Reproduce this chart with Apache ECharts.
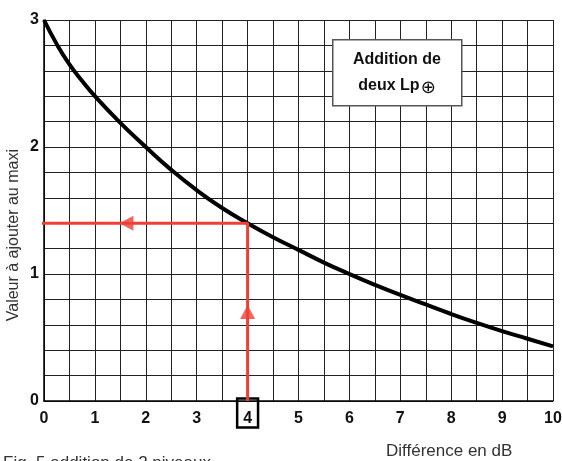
<!DOCTYPE html>
<html>
<head>
<meta charset="utf-8">
<script src="https://cdn.jsdelivr.net/npm/echarts@6/dist/echarts.min.js"></script>
<style>html,body{margin:0;padding:0;background:#fff}#c{width:562px;height:461px}</style>
</head>
<body>
<div id="c"></div>
<script>
// Data
const xValues = [0, 0.25, 0.5, 0.75, 1, 1.5, 2, 2.5, 3, 3.5, 4, 4.5, 5, 5.5, 6, 6.5, 7, 7.5, 8, 8.5, 9, 9.5, 10];
const yValues = [3.0, 2.81, 2.65, 2.52, 2.40, 2.19, 2.0, 1.82, 1.66, 1.52, 1.4, 1.29, 1.19, 1.09, 1.0, 0.915, 0.835, 0.76, 0.685, 0.615, 0.55, 0.49, 0.43];
const xTickLabels = ['0', '1', '2', '3', '4', '5', '6', '7', '8', '9', '10'];
const yTickLabels = ['0', '1', '2', '3'];
const highlightedTick = 4;
const guideX = [-0.22, 4, 4];
const guideY = [1.4, 1.4, 0];
const arrowLeft = [1.62, 1.4];
const arrowUp = [4, 0.70];
const boxTitle = ['Addition de', 'deux Lp'];
const yName = 'Valeur à ajouter au maxi';
const xName = 'Différence en dB';
const caption = 'Fig. 5 addition de 2 niveaux';

const FONT = '"Liberation Sans", Arial, sans-serif';
const RED = '#ee3f36';
const curve = xValues.map((x, i) => [x, yValues[i]]);
const guide = guideX.map((x, i) => [x, guideY[i]]);

const chart = echarts.init(document.getElementById('c'), null, {renderer: 'canvas'});
chart.setOption({
  animation: false,
  backgroundColor: '#fff',
  grid: {left: 44, top: 20, width: 509, height: 381, containLabel: false, outerBoundsMode: 'none'},
  xAxis: {
    type: 'value', min: 0, max: 10, interval: 1,
    axisLine: {show: true, lineStyle: {color: '#000', width: 1.5}},
    axisTick: {show: false},
    splitLine: {show: true, lineStyle: {color: '#222', width: 1}},
    minorTick: {show: false, splitNumber: 2},
    minorSplitLine: {show: true, lineStyle: {color: '#222', width: 1}},
    axisLabel: {
      margin: 4,
      hideOverlap: false,
      formatter: v => {
        const t = xTickLabels[Math.round(v)];
        return v === highlightedTick ? '{box|' + t + '}' : '{n|' + t + '}';
      },
      rich: {
        n: {fontFamily: FONT, fontWeight: 'bold', fontSize: 16, color: '#111', padding: [12, 6, 1, 6], lineHeight: 16},
        box: {fontFamily: FONT, fontWeight: 'bold', fontSize: 16, color: '#111', padding: [12, 6, 1, 6], lineHeight: 16,
              borderColor: '#000', borderWidth: 2.5}
      }
    }
  },
  yAxis: {
    type: 'value', min: 0, max: 3, interval: 1,
    axisLine: {show: true, lineStyle: {color: '#000', width: 1.5}},
    axisTick: {show: false},
    splitLine: {show: true, lineStyle: {color: '#222', width: 1}},
    minorTick: {show: false, splitNumber: 5},
    minorSplitLine: {show: true, lineStyle: {color: '#222', width: 1}},
    axisLabel: {
      margin: 5,
      formatter: v => yTickLabels[Math.round(v)],
      fontFamily: FONT, fontWeight: 'bold', fontSize: 16, color: '#111'
    }
  },
  series: [
    {
      type: 'line', data: curve, smooth: true, symbol: 'none',
      lineStyle: {color: '#000', width: 4}, z: 3
    },
    {
      type: 'line', data: guide, symbol: 'none', clip: false,
      lineStyle: {color: RED, width: 3}, z: 4
    },
    {
      type: 'scatter', data: [arrowLeft], symbol: 'triangle', symbolSize: [15, 14], symbolRotate: 90,
      itemStyle: {color: RED}, clip: false, z: 5
    },
    {
      type: 'scatter', data: [arrowUp], symbol: 'triangle', symbolSize: [15, 14], symbolRotate: 0,
      itemStyle: {color: RED}, clip: false, z: 5
    }
  ],
  graphic: [
    {type: 'rect', left: 332, top: 39, z: 100,
     shape: {x: 0, y: 0, width: 129, height: 66},
     style: {fill: '#fff', stroke: '#555', lineWidth: 1.5}},
    {type: 'text', x: 397, y: 47, z: 101,
     style: {
       text: '{a|' + boxTitle[0] + '}\n{a|' + boxTitle[1] + '}{b|⊕}',
       align: 'center', verticalAlign: 'top',
       rich: {
         a: {fontFamily: FONT, fontWeight: 'bold', fontSize: 16, fill: '#111', lineHeight: 26},
         b: {fontFamily: '"DejaVu Sans", sans-serif', fontSize: 18, fill: '#111', lineHeight: 26, padding: [4, 0, 0, 1]}
       }
     }},
    {
      type: 'text', left: 6, top: 149, z: 10,
      style: {text: yName, fontFamily: FONT, fontSize: 16, fill: '#333'},
      rotation: Math.PI / 2, originX: 0, originY: 0
    },
    {
      type: 'text', left: 386, top: 443, z: 10,
      style: {text: xName, fontFamily: FONT, fontSize: 17, fill: '#333'}
    },
    {
      type: 'text', left: 3, top: 455, z: 10,
      style: {text: caption, fontFamily: FONT, fontSize: 17, fill: '#333'}
    }
  ]
});
</script>
</body>
</html>
